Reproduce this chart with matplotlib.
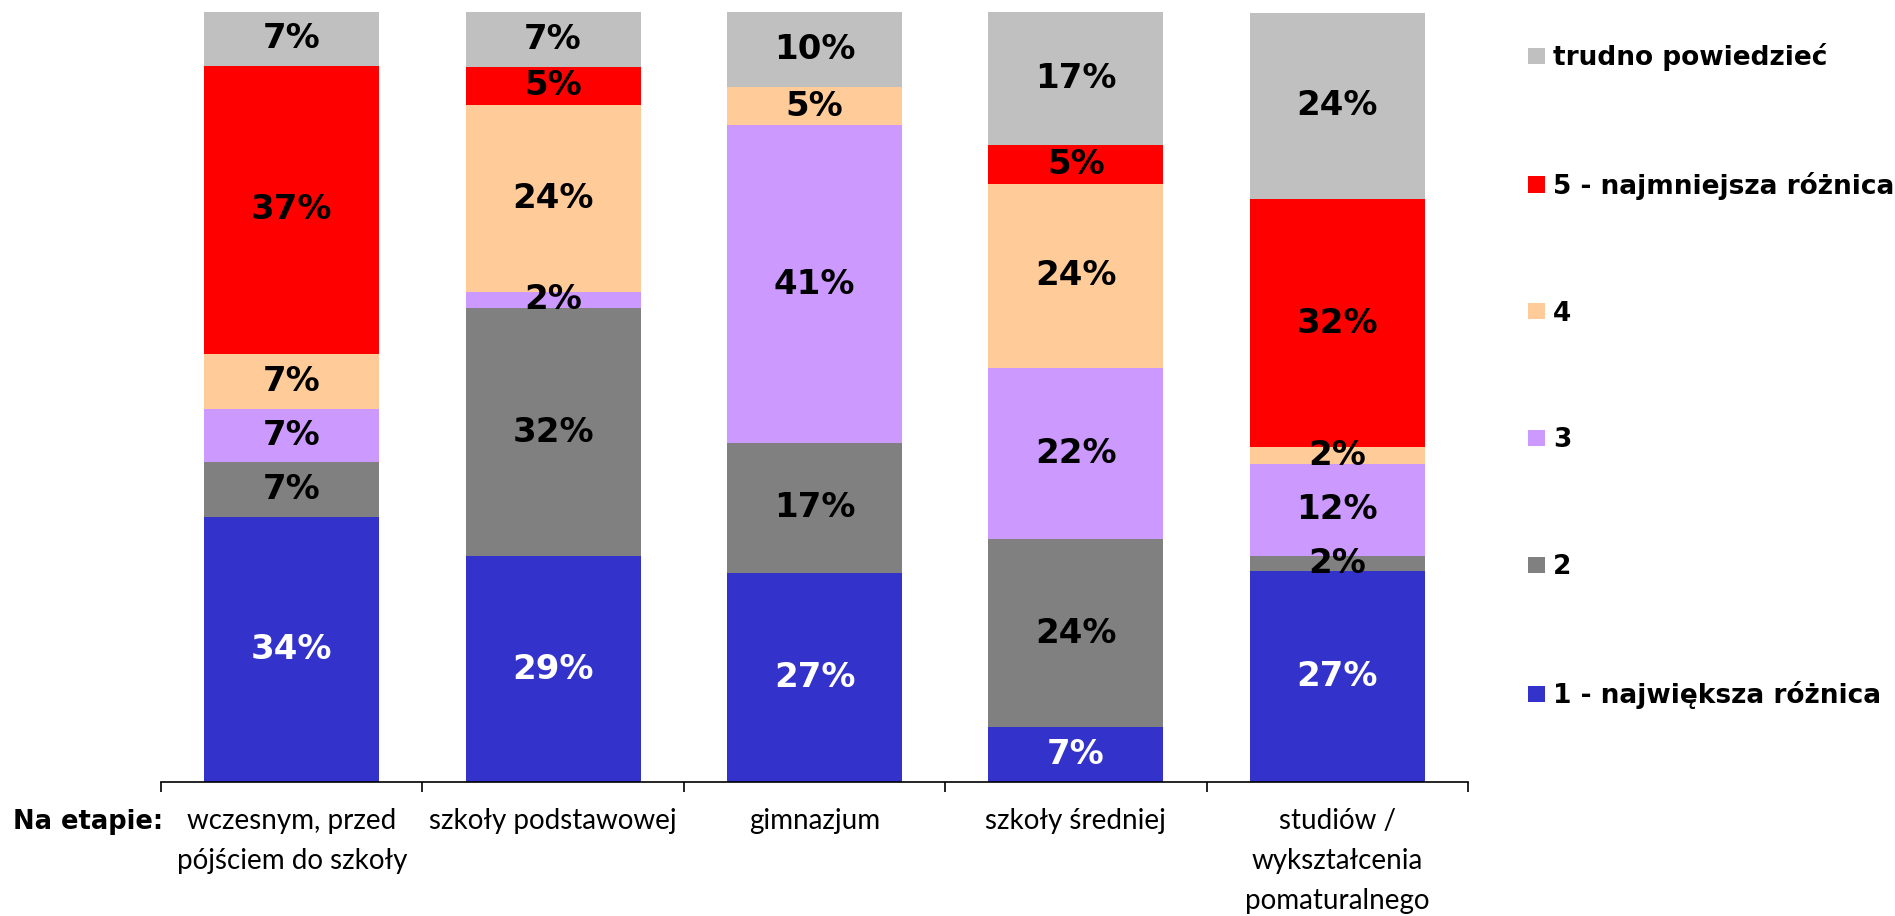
import matplotlib
matplotlib.use("Agg")
import matplotlib.pyplot as plt
import numpy as np

# categories and series (percent)
stages = ["wczesnym, przed\npójściem do szkoły", "szkoły podstawowej", "gimnazjum",
          "szkoły średniej", "studiów /\nwykształcenia\npomaturalnego"]
series_names = ["1 - największa różnica", "2", "3", "4", "5 - najmniejsza różnica",
                "trudno powiedzieć"]
v1 = [34.4, 29.3, 27.2, 7.2, 27.4]
v2 = [7.1, 32.2, 16.8, 24.3, 2.0]
v3 = [7.0, 2.2, 41.3, 22.3, 11.9]
v4 = [7.1, 24.2, 4.9, 23.9, 2.2]
v5 = [37.4, 5.0, 0.0, 5.0, 32.2]
v_dk = [7.0, 7.1, 9.9, 17.3, 24.2]

colors = ["#3333CC", "#808080", "#CC99FF", "#FFCC99", "#FF0000", "#C0C0C0"]
text_colors = ["white", "black", "black", "black", "black", "black"]

data = np.array([v1, v2, v3, v4, v5, v_dk])
x = np.arange(len(stages))

fig = plt.figure(figsize=(18.95, 9.16), dpi=100)
ax = fig.add_axes([161 / 1895, 1 - 782 / 916, (1468 - 161) / 1895, 770 / 916])

bottom = np.zeros(len(stages))
handles = []
for i, vals in enumerate(data):
    bars = ax.bar(x, vals, 0.67, bottom=bottom, color=colors[i], label=series_names[i])
    handles.append(bars)
    for xi, v, b in zip(x, vals, bottom):
        if v > 0:
            ax.text(xi, b + v / 2, f"{v:.0f}%", ha="center", va="center",
                    fontsize=24.5, fontweight="bold", color=text_colors[i],
                    family="DejaVu Sans")
    bottom += vals

ax.set_xlim(-0.5, len(stages) - 0.5)
ax.set_ylim(0, 100)
ax.set_yticks([])
for s in ["left", "right", "top"]:
    ax.spines[s].set_visible(False)
ax.spines["bottom"].set_linewidth(1.2)

ax.set_xticks(x)
ax.set_xticklabels(stages, fontsize=20, family="Lato", linespacing=1.65)
ax.tick_params(axis="x", which="major", length=0, pad=19)
ax.set_xticks(np.arange(-0.5, len(stages)), minor=True)
ax.tick_params(axis="x", which="minor", length=7, width=1.2, direction="out")

fig.text(13 / 1895, 1 - 822 / 916, "Na etapie:", fontsize=18.5, fontweight="bold",
         family="DejaVu Sans", ha="left", va="center")

fig.legend(handles[::-1], series_names[::-1], loc="upper left",
           bbox_to_anchor=(1528 / 1895, 1 - 43 / 916), frameon=False,
           prop={"family": "DejaVu Sans", "weight": "bold", "size": 19},
           handlelength=0.65, handleheight=0.57, handletextpad=0.3,
           labelspacing=3.82, borderpad=0, borderaxespad=0)

fig.savefig("out.png", dpi=100)
